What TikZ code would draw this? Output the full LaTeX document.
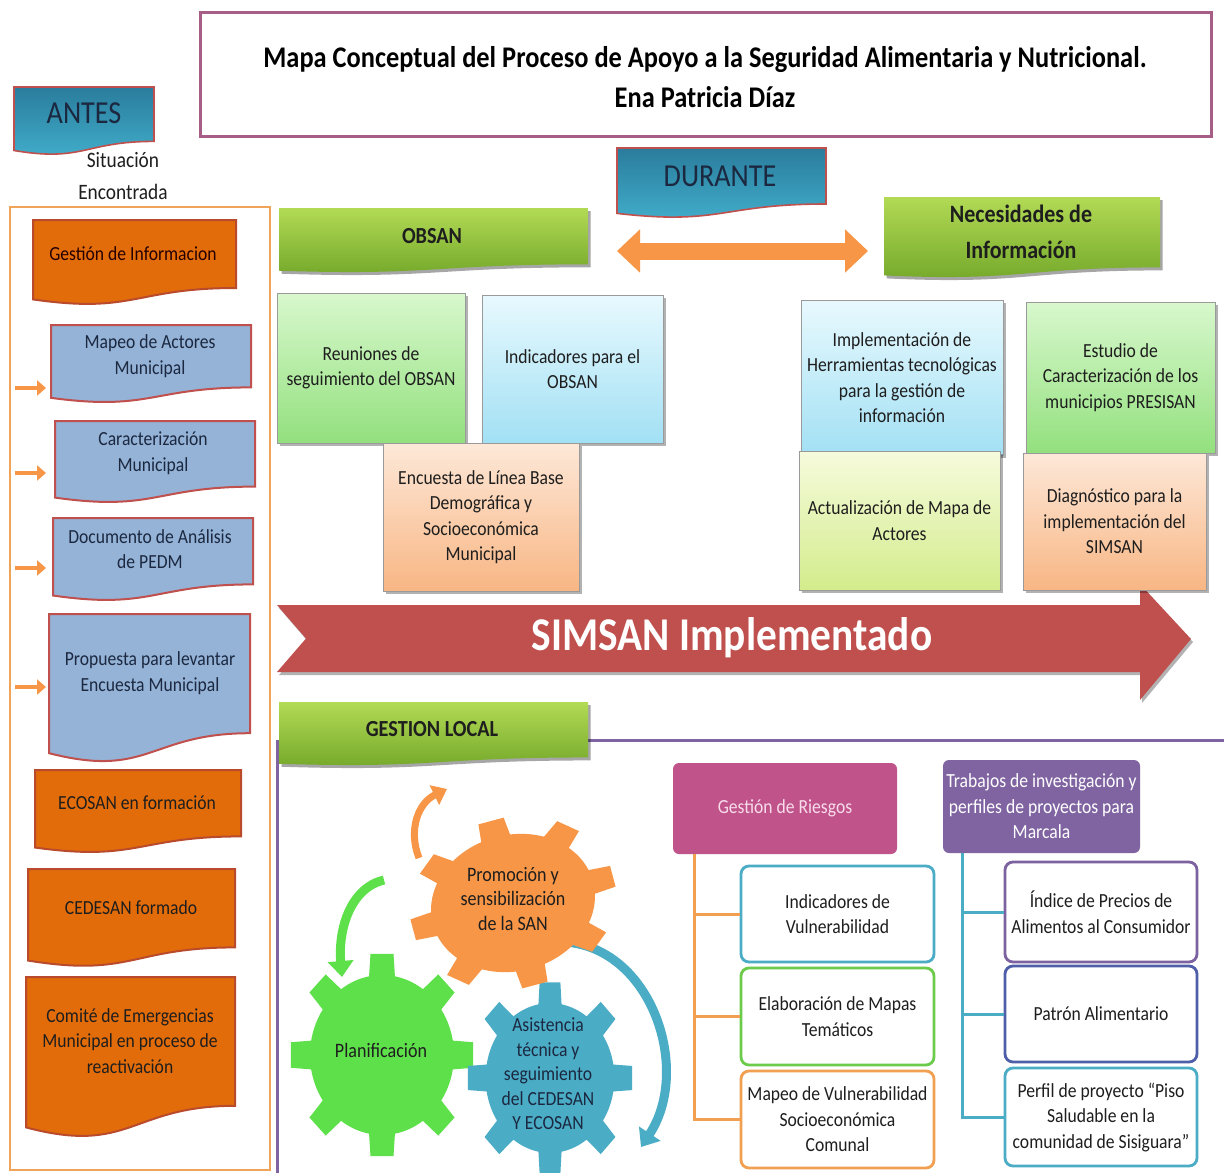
\documentclass[tikz,border=0pt]{standalone}
\usepackage{fontspec}
\setmainfont{Carlito}[FakeStretch=0.88]
\usetikzlibrary{shadows,arrows.meta,calc}
\definecolor{titleB}{HTML}{A65E86}
\definecolor{frameO}{HTML}{F0A45A}
\definecolor{docOr}{HTML}{E36C0A}
\definecolor{docOrB}{HTML}{B94A2C}
\definecolor{docBl}{HTML}{95B3D7}
\definecolor{docRed}{HTML}{C0504D}
\definecolor{navyT}{HTML}{1B2840}
\definecolor{tealA}{HTML}{2A7C9C}
\definecolor{tealB}{HTML}{42B0CD}
\definecolor{greenA}{HTML}{B2DA55}
\definecolor{greenB}{HTML}{74A82A}
\definecolor{arrowO}{HTML}{F79646}
\definecolor{redA}{HTML}{C0504D}
\definecolor{purpleL}{HTML}{8064A2}
\definecolor{gearO}{HTML}{F79646}
\definecolor{gearG}{HTML}{5EE04A}
\definecolor{gearB}{HTML}{4BACC6}
\definecolor{pinkR}{HTML}{C0538A}
\definecolor{pinkT}{HTML}{F8DCEB}
\definecolor{brGreen}{HTML}{6CCB4A}
\definecolor{brOrange}{HTML}{F0A050}
\definecolor{brTeal}{HTML}{4BACC6}
\definecolor{brPurple}{HTML}{7C62A0}
\definecolor{brBlue}{HTML}{4E5EA8}
\definecolor{gT}{HTML}{D8F8CD}
\definecolor{gB}{HTML}{93E07E}
\definecolor{lbT}{HTML}{E8F9FE}
\definecolor{lbB}{HTML}{A2E0F4}
\definecolor{pcT}{HTML}{FDE8D8}
\definecolor{pcB}{HTML}{F8B684}
\definecolor{ygT}{HTML}{F6FBDC}
\definecolor{ygB}{HTML}{D3EC8C}
\definecolor{boxgray}{HTML}{9A9A9A}
\definecolor{darkT}{HTML}{1E1E1E}

% document shape: x1,y1,x2,ybottom(nominal)
\newcommand\docpath[4]{(#1,#2) -- (#3,#2) -- (#3,{#2+0.80*(#4-#2)}) .. controls ({(#1+#3)/2},{#2+0.80*(#4-#2)}) and ({(#1+#3)/2},{#2+1.107*(#4-#2)}) .. (#1,{#2+0.934*(#4-#2)}) -- cycle}
% banner shape
\newcommand\bannerpath[4]{(#1,#2) -- (#3,#2) -- (#3,{#2+0.88*(#4-#2)}) .. controls ({(#1+#3)/2},{#2+0.88*(#4-#2)}) and ({(#1+#3)/2},{#2+1.06*(#4-#2)}) .. (#1,{#2+0.98*(#4-#2)}) -- cycle}
% gear: x, y, teeth, rin, rout, rotation, scope options
\newcommand\gearshape[7]{%
 \begin{scope}[shift={(#1,#2)}, rotate=#6, #7]
 \fill ({-0.23*360/#3}:#4) \foreach \i in {1,...,#3} {
   -- ({(\i-1)*360/#3-0.16*360/#3}:#5) -- ({(\i-1)*360/#3+0.16*360/#3}:#5) -- ({(\i-1)*360/#3+0.23*360/#3}:#4)
   arc[start angle={(\i-1)*360/#3+0.23*360/#3}, end angle={\i*360/#3-0.23*360/#3}, radius=#4]
 } -- cycle;
 \end{scope}}

\begin{document}
\begin{tikzpicture}[x=1pt,y=-1pt,
  base/.style={font=\fontsize{20}{25.5}\selectfont, align=center, text=darkT, inner sep=1pt},
  navy/.style={base, text=navyT},
  pastel/.style={base, draw=boxgray, line width=0.7pt, inner sep=3pt,
     drop shadow={shadow xshift=2.5pt, shadow yshift=-2.5pt, opacity=0.3, fill=black}},
  docO/.style={fill=docOr, draw=docOrB, line width=2pt},
  docB/.style={fill=docBl, draw=docRed, line width=2pt},
  tagbox/.style={top color=tealA, bottom color=tealB, draw=docRed, line width=1.6pt},
  banner/.style={top color=greenA, bottom color=greenB,
     drop shadow={shadow xshift=2.5pt, shadow yshift=-3pt, opacity=0.35, fill=black}},
  bantext/.style={font=\fontsize{23}{36}\selectfont\bfseries, align=center, text=darkT},
  tagtext/.style={font=\fontsize{32}{36}\selectfont, text=navyT},
  smallarr/.style={arrowO, line width=4.5pt, -{Triangle[length=9pt,width=15pt]}},
  rbox/.style={base, rounded corners=8pt, fill=white, line width=2.8pt, inner sep=2pt},
  head/.style={base, rounded corners=6pt, text=white},
  geartext/.style={base, font=\fontsize{20.5}{24.5}\selectfont},
  brline/.style={line width=3pt}
]
\useasboundingbox (0,0) rectangle (1224,1173);
\fill[white] (0,0) rectangle (1224,1173);

% ---------- title ----------
\draw[titleB, line width=3pt, fill=white] (200,12) rectangle (1211,136);
\node[font=\fontsize{30}{40}\selectfont\bfseries, align=center, text=black] (title) at (705,77)
  {Mapa Conceptual del Proceso de Apoyo a la Seguridad Alimentaria y Nutricional.\\Ena Patricia Díaz};

% ---------- ANTES column ----------
\path[tagbox] \docpath{14}{87}{154}{155};
\node[tagtext] (antes) at (84,113) {ANTES};
\node[base, font=\fontsize{22}{32}\selectfont] (sit) at (123,176) {Situación\\Encontrada};
\draw[frameO, line width=2.5pt] (10,207) rectangle (270,1170);

\path[docO] \docpath{33}{220}{236}{305};
\node[base, text=black!85!red] (gi) at (133,254) {Gestión de Informacion};
\path[docB] \docpath{51}{325}{251}{403};
\node[navy] (mam) at (150,356) {Mapeo de Actores\\Municipal};
\path[docB] \docpath{55}{421}{255}{503};
\node[navy] (cm) at (153,453) {Caracterización\\Municipal};
\path[docB] \docpath{53}{518}{253}{601};
\node[navy] (dap) at (150,549) {Documento de Análisis\\de PEDM};
\path[docB] \docpath{49}{614}{250}{763};
\node[navy] (pem) at (150,673) {Propuesta para levantar\\Encuesta Municipal};
\path[docO] \docpath{35}{770}{241}{853};
\node[base] (eco) at (137,803) {ECOSAN en formación};
\path[docO] \docpath{28}{869}{235}{967};
\node[base] (ced) at (131,908) {CEDESAN formado};
\path[docO] \docpath{26}{977}{235}{1138};
\node[base] (com) at (130,1041) {Comité de Emergencias\\Municipal en proceso de\\reactivación};

\coordinate (a1s) at (15,388); \coordinate (a1e) at (46,388);
\coordinate (a2s) at (15,473); \coordinate (a2e) at (46,473);
\coordinate (a3s) at (15,568); \coordinate (a3e) at (46,568);
\coordinate (a4s) at (15,687); \coordinate (a4e) at (46,687);
\draw[smallarr] (a1s) -- (a1e);
\draw[smallarr] (a2s) -- (a2e);
\draw[smallarr] (a3s) -- (a3e);
\draw[smallarr] (a4s) -- (a4e);

% ---------- DURANTE ----------
\path[tagbox] \docpath{617}{148}{826}{218};
\node[tagtext] (durante) at (720,176) {DURANTE};

\path[banner] \bannerpath{279}{208}{588}{272};
\node[bantext] (obsan) at (432,236) {OBSAN};
\path[banner] \bannerpath{884}{197}{1160}{277};
\node[bantext, font=\fontsize{25}{36}\selectfont\bfseries] (neces) at (1021,232) {Necesidades de\\Información};

\coordinate (dA) at (617,251); \coordinate (dB) at (868,251);
\draw[arrowO, line width=17pt, {Triangle[length=23pt,width=42pt]}-{Triangle[length=23pt,width=42pt]}] (dA) -- (dB);

% ---------- SIMSAN arrow ----------
\fill[redA, drop shadow={shadow xshift=2pt, shadow yshift=-3pt, opacity=0.3, fill=black}]
  (277,605) -- (1140,605) -- (1140,584) -- (1191,639) -- (1140,700) -- (1140,672) -- (277,672) -- (306,638.5) -- cycle;
\node[font=\fontsize{47}{50}\selectfont\bfseries, text=white] (simsan) at (732,638) {SIMSAN Implementado};

% ---------- pastel boxes ----------
\node[pastel, top color=gT, bottom color=gB, minimum width=188pt, minimum height=150pt] (reun) at (371,368) {Reuniones de\\seguimiento del OBSAN};
\node[pastel, top color=lbT, bottom color=lbB, minimum width=181pt, minimum height=148pt] (indo) at (572.5,369) {Indicadores para el\\OBSAN};
\node[pastel, top color=pcT, bottom color=pcB, minimum width=196pt, minimum height=148pt] (enc) at (481,517) {Encuesta de Línea Base\\Demográfica y\\Socioeconómica\\Municipal};
\node[pastel, top color=lbT, bottom color=lbB, minimum width=202pt, minimum height=155pt] (impl) at (902,377.5) {Implementación de\\Herramientas tecnológicas\\para la gestión de\\información};
\node[pastel, top color=gT, bottom color=gB, minimum width=189pt, minimum height=151pt] (est) at (1120.5,377.5) {Estudio de\\Caracterización de los\\municipios PRESISAN};
\node[pastel, top color=ygT, bottom color=ygB, minimum width=201pt, minimum height=139pt] (act) at (899.5,520.5) {Actualización de Mapa de\\Actores};
\node[pastel, top color=pcT, bottom color=pcB, minimum width=183pt, minimum height=137pt] (diag) at (1114.5,521.5) {Diagnóstico para la\\implementación del\\SIMSAN};

% ---------- GESTION LOCAL ----------
\draw[purpleL, line width=3pt] (277,740) -- (277,1173);
\draw[purpleL, line width=3pt] (588,740) -- (1224,740);
\path[banner] \bannerpath{279}{702}{588}{765};
\node[bantext] (gl) at (432,729) {GESTION LOCAL};

% gears arrows
\coordinate (oa1) at (419,858); \coordinate (oa2) at (447,789);
\coordinate (ga1) at (384,880); \coordinate (ga2) at (342,977);
\coordinate (ba1) at (565,942); \coordinate (ba2) at (641,1147);
\draw[gearO, line width=7pt, -{Triangle[length=14pt,width=21pt]}] (oa1) .. controls (408,830) and (418,803) .. (oa2);
\draw[gearG, line width=9pt, -{Triangle[length=16pt,width=25pt]}] (ga1) .. controls (350,888) and (338,930) .. (ga2);
\draw[gearB, line width=9pt, -{Triangle[length=16pt,width=25pt]}] (ba1) .. controls (652,948) and (692,1070) .. (ba2);

\gearshape{382}{1055}{8}{80}{102}{0}{fill=gearG, xscale=0.9}
\gearshape{550}{1078}{8}{70}{90}{0}{fill=gearB, xscale=0.92, yscale=1.07}
\gearshape{513}{903}{8}{74}{93}{15}{fill=gearO, xscale=1.12, yscale=0.92}

\node[geartext] (prom) at (513,899) {Promoción y\\sensibilización\\de la SAN};
\node[geartext] (plan) at (381,1050) {Planificación};
\node[geartext, font=\fontsize{20}{24.5}\selectfont, text=navyT] (asis) at (548,1074) {Asistencia\\técnica y\\seguimiento\\del CEDESAN\\Y ECOSAN};

% ---------- risk management ----------
\node[head, fill=pinkR, text=pinkT, minimum width=224pt, minimum height=91pt] (gr) at (785,808.5) {Gestión de Riesgos};
\node[head, fill=purpleL, minimum width=197pt, minimum height=93pt] (trab) at (1041.5,806.5) {Trabajos de investigación y\\perfiles de proyectos para\\Marcala};

\node[rbox, draw=brTeal, minimum width=193pt, minimum height=96pt] (ind) at (837.5,914) {Indicadores de\\Vulnerabilidad};
\node[rbox, draw=brGreen, minimum width=193pt, minimum height=97pt] (ela) at (837.5,1016.5) {Elaboración de Mapas\\Temáticos};
\node[rbox, draw=brOrange, minimum width=193pt, minimum height=97pt] (mapv) at (837.5,1119.5) {Mapeo de Vulnerabilidad\\Socioeconómica\\Comunal};

\node[rbox, draw=brPurple, minimum width=192pt, minimum height=100pt] (ipc) at (1101,912) {Índice de Precios de\\Alimentos al Consumidor};
\node[rbox, draw=brBlue, minimum width=192pt, minimum height=96pt] (pat) at (1101,1014) {Patrón Alimentario};
\node[rbox, draw=brTeal, minimum width=192pt, minimum height=98pt] (per) at (1101,1117) {Perfil de proyecto “Piso\\Saludable en la\\comunidad de Sisiguara”};

\coordinate (grL) at (694,854);
\coordinate (trL) at (962,853);
\draw[brOrange, brline] (grL) |- (ind.west);
\draw[brOrange, brline] (grL) |- (ela.west);
\draw[brOrange, brline] (grL) |- (mapv.west);
\draw[brTeal, brline] (trL) |- (ipc.west);
\draw[brTeal, brline] (trL) |- (pat.west);
\draw[brTeal, brline] (trL) |- (per.west);
\end{tikzpicture}
\end{document}
